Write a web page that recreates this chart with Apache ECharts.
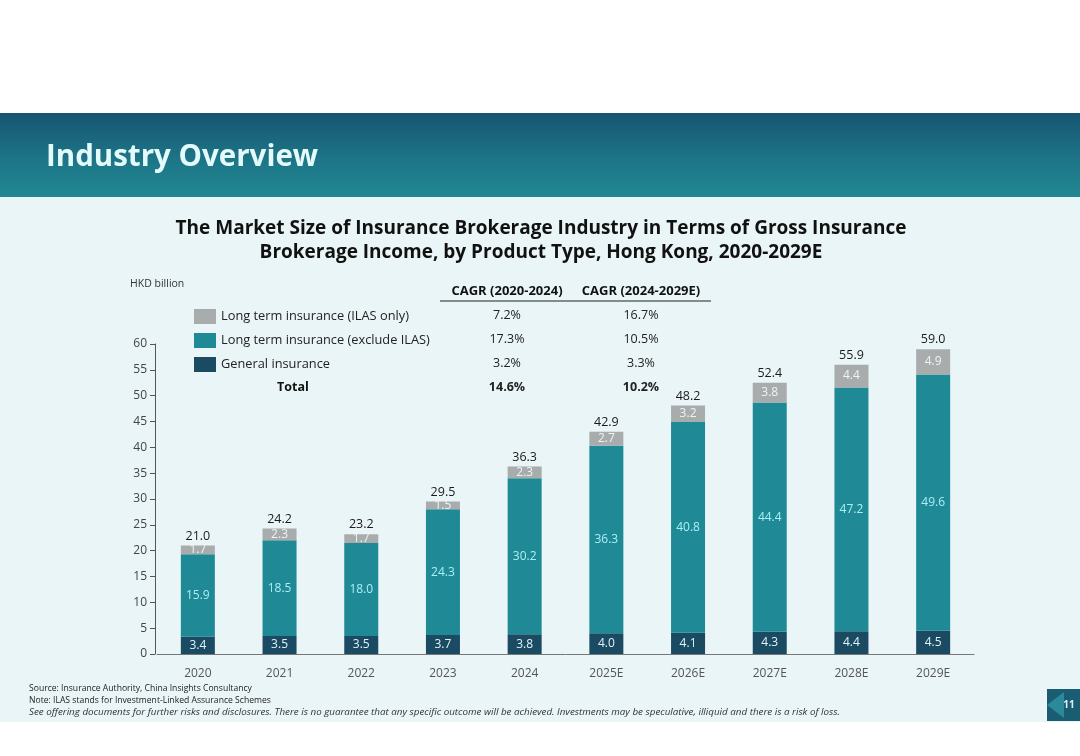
<!DOCTYPE html>
<html>
<head>
<meta charset="utf-8">
<script src="https://cdn.jsdelivr.net/npm/echarts@6/dist/echarts.min.js"></script>
<style>
  html, body { margin: 0; padding: 0; background: #fff; }
  #chart { width: 1080px; height: 756px; }
</style>
</head>
<body>
<div id="chart"></div>
<script>
const years = ["2020", "2021", "2022", "2023", "2024", "2025E", "2026E", "2027E", "2028E", "2029E"];
const general = [3.4, 3.5, 3.5, 3.7, 3.8, 4.0, 4.1, 4.3, 4.4, 4.5];
const longExcl = [15.9, 18.5, 18.0, 24.3, 30.2, 36.3, 40.8, 44.4, 47.2, 49.6];
const ilas = [1.7, 2.3, 1.7, 1.5, 2.3, 2.7, 3.2, 3.8, 4.4, 4.9];
const totals = [21.0, 24.2, 23.2, 29.5, 36.3, 42.9, 48.2, 52.4, 55.9, 59.0];

const seriesNames = ["Long term insurance (ILAS only)", "Long term insurance (exclude ILAS)", "General insurance"];
const cagrHead = ["CAGR (2020-2024)", "CAGR (2024-2029E)"];
const cagrEarly = ["7.2%", "17.3%", "3.2%", "14.6%"];
const cagrLate = ["16.7%", "10.5%", "3.3%", "10.2%"];

const FONT = "Open Sans";
const cGeneral = "#1b4a63";
const cLong = "#1f8a96";
const cIlas = "#a9acac";

const chart = echarts.init(document.getElementById("chart"));

// CAGR table rows, one per legend row plus the total line
const rowY = [315, 339, 363, 387];
const tableText = [];
cagrHead.forEach((h, i) => {
  tableText.push({
    type: "text", x: i === 0 ? 507 : 641, y: 291,
    style: { text: h, font: "bold 13px " + FONT, fill: "#111", align: "center", verticalAlign: "middle" }
  });
});
rowY.forEach((y, i) => {
  const bold = i === 3;
  tableText.push({
    type: "text", x: 507, y: y,
    style: { text: cagrEarly[i], font: (bold ? "bold " : "") + "12.5px " + FONT, fill: "#222", align: "center", verticalAlign: "middle" }
  });
  tableText.push({
    type: "text", x: 641, y: y,
    style: { text: cagrLate[i], font: (bold ? "bold " : "") + "12.5px " + FONT, fill: "#222", align: "center", verticalAlign: "middle" }
  });
});

const option = {
  backgroundColor: "#ffffff",
  animation: false,
  textStyle: { fontFamily: FONT },
  graphic: [
    // body background
    { type: "rect", z: -10, shape: { x: 0, y: 197, width: 1080, height: 525 }, style: { fill: "#e9f5f6" } },
    // header band
    {
      type: "rect", z: -9, shape: { x: 0, y: 113, width: 1080, height: 84 },
      style: {
        fill: new echarts.graphic.LinearGradient(0, 0, 0, 1, [
          { offset: 0, color: "#175571" },
          { offset: 0.55, color: "#1d7587" },
          { offset: 1, color: "#218792" }
        ])
      }
    },
    {
      type: "text", x: 46, y: 158,
      style: { text: "Industry Overview", font: "bold 29.5px " + FONT, fill: "#e4fbfb", verticalAlign: "middle" }
    },
    {
      type: "text", x: 541, y: 229,
      style: { text: "The Market Size of Insurance Brokerage Industry in Terms of Gross Insurance", font: "bold 19px " + FONT, fill: "#111", align: "center", verticalAlign: "middle" }
    },
    {
      type: "text", x: 541, y: 253,
      style: { text: "Brokerage Income, by Product Type, Hong Kong, 2020-2029E", font: "bold 19px " + FONT, fill: "#111", align: "center", verticalAlign: "middle" }
    },
    {
      type: "text", x: 130, y: 284,
      style: { text: "HKD billion", font: "10.5px " + FONT, fill: "#333", verticalAlign: "middle" }
    },
    { type: "line", shape: { x1: 440, y1: 301, x2: 711, y2: 301 }, style: { stroke: "#222", lineWidth: 1.2 } },
    {
      type: "text", x: 293, y: 387,
      style: { text: "Total", font: "bold 12.5px " + FONT, fill: "#111", align: "center", verticalAlign: "middle" }
    },
    ...tableText,
    // footer
    {
      type: "text", x: 29, y: 689,
      style: { text: "Source: Insurance Authority, China Insights Consultancy", font: "8.6px " + FONT, fill: "#222", verticalAlign: "middle" }
    },
    {
      type: "text", x: 29, y: 701,
      style: { text: "Note: ILAS stands for Investment-Linked Assurance Schemes", font: "8.6px " + FONT, fill: "#222", verticalAlign: "middle" }
    },
    {
      type: "text", x: 29, y: 712,
      style: { text: "See offering documents for further risks and disclosures. There is no guarantee that any specific outcome will be achieved. Investments may be speculative, illiquid and there is a risk of loss.", font: "italic 9.8px " + FONT, fill: "#333", verticalAlign: "middle" }
    },
    { type: "rect", shape: { x: 1047, y: 689, width: 33, height: 32 }, style: { fill: "#1a5d73" } },
    { type: "polygon", shape: { points: [[1047, 705], [1064, 692], [1064, 718]] }, style: { fill: "#2a8a99" } },
    {
      type: "text", x: 1069, y: 705,
      style: { text: "11", font: "bold 10px " + FONT, fill: "#d8f1f4", align: "center", verticalAlign: "middle" }
    }
  ],
  legend: {
    orient: "vertical",
    left: 189,
    top: 304,
    itemWidth: 22,
    itemHeight: 15,
    itemGap: 9,
    icon: "rect",
    data: seriesNames,
    textStyle: { fontFamily: FONT, fontSize: 12.8, color: "#222", padding: [0, 0, 0, 0] }
  },
  grid: { left: 157, right: 106, top: 344, bottom: 102 },
  xAxis: {
    type: "category",
    data: years,
    axisLine: { lineStyle: { color: "#777", width: 1 } },
    axisTick: { show: false },
    axisLabel: { color: "#555", fontSize: 12, margin: 14, fontFamily: FONT }
  },
  yAxis: {
    type: "value",
    min: 0,
    max: 60,
    interval: 5,
    offset: 2,
    splitLine: { show: false },
    axisLine: { show: true, lineStyle: { color: "#555" } },
    axisTick: { show: true, inside: false, length: 5, lineStyle: { color: "#555" } },
    axisLabel: { color: "#444", fontSize: 12, margin: 8, fontFamily: FONT }
  },
  series: [
    {
      name: "General insurance",
      type: "bar",
      stack: "total",
      barWidth: 34,
      data: general,
      itemStyle: { color: cGeneral },
      label: { show: true, position: "inside", color: "#e2f3f6", fontSize: 12, fontFamily: FONT, formatter: (p) => p.value.toFixed(1) }
    },
    {
      name: "Long term insurance (exclude ILAS)",
      type: "bar",
      stack: "total",
      data: longExcl,
      itemStyle: { color: cLong },
      label: { show: true, position: "inside", color: "#a9eff5", fontSize: 12, fontFamily: FONT, formatter: (p) => p.value.toFixed(1) }
    },
    {
      name: "Long term insurance (ILAS only)",
      type: "bar",
      stack: "total",
      data: ilas,
      itemStyle: { color: cIlas },
      label: { show: true, position: "inside", color: "#eef4f4", fontSize: 12, fontFamily: FONT, formatter: (p) => p.value.toFixed(1) }
    },
    {
      // invisible cap carrying the total labels above each stack
      name: "Total",
      type: "bar",
      stack: "total",
      data: totals.map(() => 0),
      itemStyle: { color: "transparent" },
      label: {
        show: true, position: "top", distance: 3, color: "#1a1a1a", fontSize: 12.5, fontFamily: FONT,
        formatter: (p) => totals[p.dataIndex].toFixed(1)
      },
      tooltip: { show: false }
    }
  ]
};

chart.setOption(option);
</script>
</body>
</html>
